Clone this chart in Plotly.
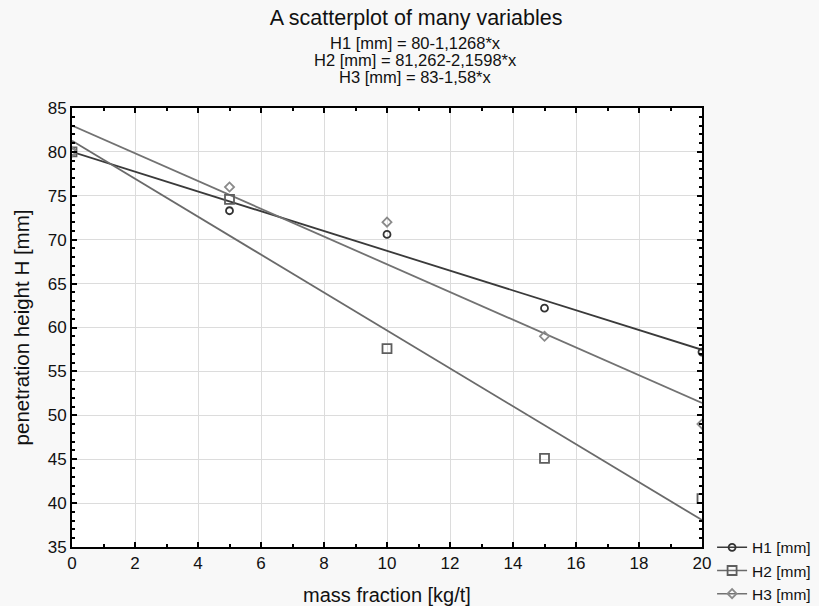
import numpy as np
import plotly.graph_objects as go

# ---- data ----
mass_fraction = [0, 5, 10, 15, 20]
h1_mm = [80, 73.3, 70.6, 62.2, 57.2]
h2_mm = [80, 74.6, 57.6, 45.1, 40.5]
h3_mm = [80, 76.0, 72.0, 59.0, 49.0]

series_names = ["H1 [mm]", "H2 [mm]", "H3 [mm]"]
fit_intercepts = [80, 81.262, 83]
fit_slopes = [-1.1268, -2.1598, -1.58]
equation_labels = ["H1 [mm] = 80-1,1268*x",
                   "H2 [mm] = 81,262-2,1598*x",
                   "H3 [mm] = 83-1,58*x"]

x_range = [0, 20]
y_range = [35, 85]

# ---- styles ----
line_colors = ["#3a3a3a", "#6a6a6a", "#727272"]
marker_colors = ["#333333", "#5e5e5e", "#8a8a8a"]
marker_symbols = ["circle-open", "square-open", "diamond-open"]
marker_sizes = [7, 9, 7]

fig = go.Figure()

all_series = [h1_mm, h2_mm, h3_mm]

# regression lines
for i, name in enumerate(series_names):
    xs = np.array(x_range, dtype=float)
    ys = fit_intercepts[i] + fit_slopes[i] * xs
    fig.add_trace(go.Scatter(
        x=xs, y=ys, mode="lines",
        line=dict(color=line_colors[i], width=1.8),
        showlegend=False, hoverinfo="skip"))

# data points (gaps between points so that no connecting line is drawn,
# but the legend still shows line + marker)
for i, name in enumerate(series_names):
    xs, ys = [], []
    for xv, yv in zip(mass_fraction, all_series[i]):
        xs += [xv, None]
        ys += [yv, None]
    fig.add_trace(go.Scatter(
        x=xs, y=ys, mode="lines+markers", name=name,
        connectgaps=False,
        line=dict(color=line_colors[i], width=1.5),
        marker=dict(symbol=marker_symbols[i], size=marker_sizes[i],
                    color=marker_colors[i],
                    line=dict(width=1.8, color=marker_colors[i]))))

for k, txt in enumerate(equation_labels):
    fig.add_annotation(
        text=txt, xref="paper", yref="paper", x=0.546, y=1,
        yanchor="middle", xanchor="center", showarrow=False,
        yshift=65 - 17 * k,
        font=dict(size=16.5, color="#111111"))

axis_common = dict(
    showline=True, linecolor="black", linewidth=2, mirror="ticks",
    ticks="inside", ticklen=5, tickwidth=2, tickcolor="black",
    showgrid=True, gridcolor="#dcdcdc", gridwidth=1,
    zeroline=False,
    tickfont=dict(size=17, color="#111111"),
)

fig.update_xaxes(
    range=x_range, dtick=2, tick0=0,
    minor=dict(dtick=1, ticks="inside", ticklen=3, tickwidth=1.5,
               tickcolor="black", showgrid=False),
    title=dict(text="mass fraction [kg/t]", font=dict(size=20, color="#111111"),
               standoff=19),
    **axis_common)
fig.update_yaxes(
    range=y_range, dtick=5, tick0=35,
    minor=dict(dtick=1, ticks="inside", ticklen=3, tickwidth=1.5,
               tickcolor="black", showgrid=False),
    title=dict(text="penetration height H [mm]", font=dict(size=20.5, color="#111111"),
               standoff=13),
    **axis_common)

fig.update_layout(
    width=819, height=606,
    margin=dict(l=72, r=117, t=108, b=59, autoexpand=False),
    paper_bgcolor="#f8f8f8", plot_bgcolor="white",
    font=dict(family="Liberation Sans, Arial, sans-serif", color="#111111"),
    title=dict(text="A scatterplot of many variables", x=0.508, xanchor="center",
               y=1 - 17 / 606, yanchor="middle", yref="container",
               font=dict(size=21.5, color="#111111")),
    legend=dict(x=1.016, xanchor="left", y=0.037, yanchor="top",
                bgcolor="rgba(0,0,0,0)", font=dict(size=15.5, color="#111111"),
                tracegroupgap=0, itemwidth=30),
)

fig.write_html("out.html",
               config={"displayModeBar": False},
               post_script="document.body.style.margin='0';")
